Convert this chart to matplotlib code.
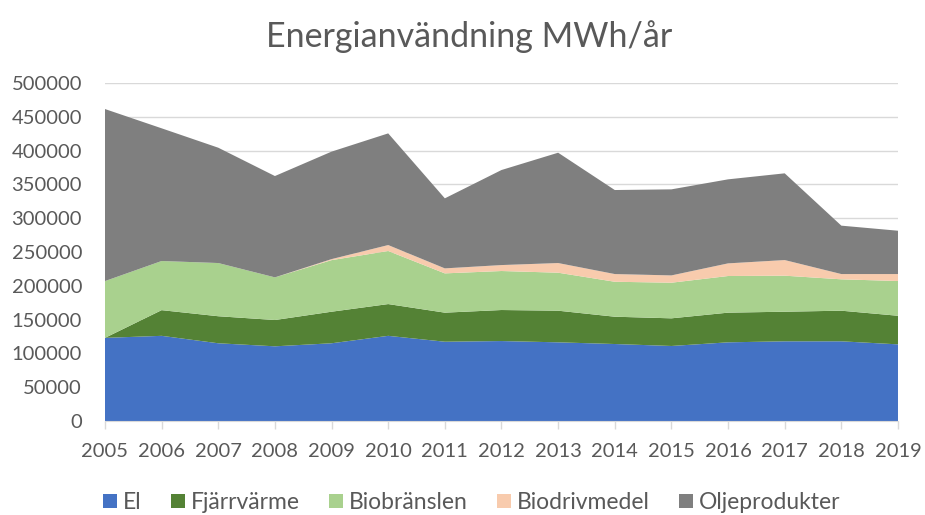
import matplotlib
matplotlib.use("Agg")
import matplotlib.pyplot as plt
from matplotlib.patches import Patch

years = [2005, 2006, 2007, 2008, 2009, 2010, 2011, 2012, 2013, 2014, 2015, 2016, 2017, 2018, 2019]
el = [123000, 126000, 115000, 110500, 115000, 126000, 117300, 118300, 116400, 113900, 111000, 116400, 117900, 117900, 113400]
fjarrvarme = [0, 38000, 40000, 38900, 46700, 47000, 43000, 45900, 46800, 40400, 40900, 43900, 43800, 45300, 42300]
biobranslen = [84000, 72700, 78700, 63100, 76300, 78500, 58100, 57700, 56200, 51700, 52700, 54200, 53300, 46400, 51400]
biodrivmedel = [0, 0, 0, 0, 1500, 8800, 7400, 8800, 14300, 11400, 10800, 18700, 23100, 7800, 10300]
oljeprodukter = [254500, 196300, 170600, 149900, 159000, 165200, 103600, 140600, 163200, 124300, 127300, 124300, 128300, 71600, 64100]
series_names = ["El", "Fjärrvärme", "Biobränslen", "Biodrivmedel", "Oljeprodukter"]
colors = ["#4472C4", "#548235", "#A9D18E", "#F8CBAD", "#7F7F7F"]
yticks = [0, 50000, 100000, 150000, 200000, 250000, 300000, 350000, 400000, 450000, 500000]

plt.rcParams['font.family'] = ['Lato', 'DejaVu Sans']
txt = "#595959"

fig = plt.figure(figsize=(9.25, 5.15), dpi=100)
ax = fig.add_axes([0.1135, 0.1825, 0.8573, 0.6563])

ax.stackplot(years, el, fjarrvarme, biobranslen, biodrivmedel, oljeprodukter,
             colors=colors, linewidth=0, zorder=2)

ax.set_xlim(years[0], years[-1])
ax.set_ylim(0, 500000)
ax.set_yticks(yticks)
ax.set_yticklabels([str(v) for v in yticks])
ax.set_xticks(years)
ax.set_xticklabels([str(y) for y in years])
ax.grid(axis='y', color='#D9D9D9', linewidth=1, zorder=0)
ax.set_axisbelow(True)
for s in ['top', 'right', 'left']:
    ax.spines[s].set_visible(False)
ax.spines['bottom'].set_color('#D9D9D9')
ax.spines['bottom'].set_zorder(3)
ax.tick_params(axis='y', length=0, labelsize=14.5, labelcolor=txt, pad=16.5)
ax.tick_params(axis='x', length=5.8, width=1, color='#D9D9D9', labelsize=14.5, labelcolor=txt, pad=10)

fig.text(0.5076, 0.9087, "Energianvändning MWh/år", ha='center', va='baseline', fontsize=24.5, color=txt)

handles = [Patch(facecolor=c, edgecolor='none') for c in colors]
fig.legend(handles, series_names, loc='center', bbox_to_anchor=(0.51, 0.024), ncol=5,
           frameon=False, fontsize=16.5, labelcolor=txt, handlelength=0.6, handleheight=0.6,
           columnspacing=1.3, handletextpad=0.25, borderpad=0)

fig.savefig("out.png", dpi=100)
